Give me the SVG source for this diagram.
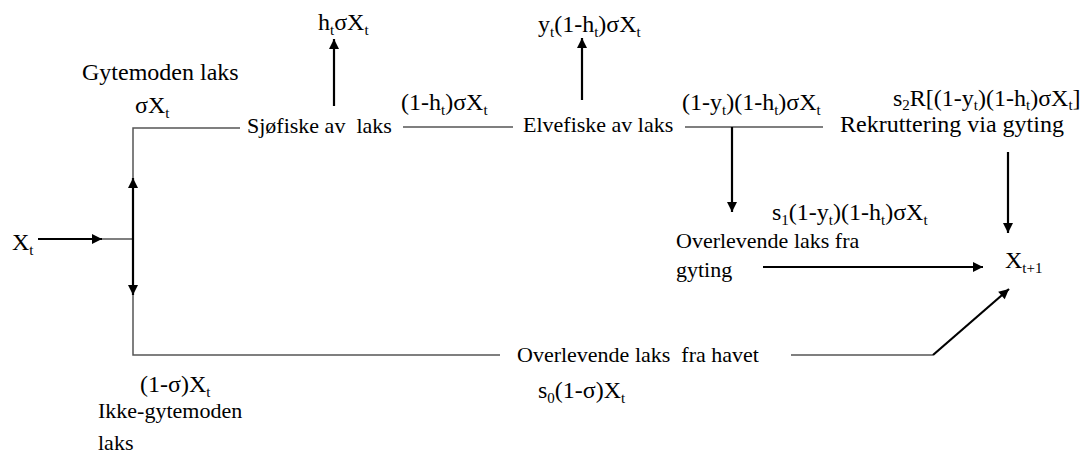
<svg xmlns="http://www.w3.org/2000/svg" width="1088" height="457" viewBox="0 0 1088 457">
<style>
text{font-family:"Liberation Serif","Times New Roman",serif;font-size:24px;fill:#000}
.p{font-size:22px}
.sub{font-size:15px}
.thin{stroke:#555;stroke-width:1.5;fill:none}
.arr{stroke:#000;stroke-width:2.2;fill:none}
</style>
<defs>
<marker id="ah" viewBox="0 0 10 10" refX="10" refY="5" markerWidth="11" markerHeight="10" markerUnits="userSpaceOnUse" orient="auto">
<path d="M0,0 L10,5 L0,10 z" fill="#000"/>
</marker>
</defs>
<g id="connectors">
<path class="thin" d="M240,128 H133 V355 H500"/>
<path class="thin" d="M102,239 H133"/>
<path class="arr" d="M133,239 V178" marker-end="url(#ah)"/>
<path class="arr" d="M133,239 V295" marker-end="url(#ah)"/>
<path class="arr" d="M38,239 H102" marker-end="url(#ah)"/>
<path class="arr" d="M334,106 V39" marker-end="url(#ah)"/>
<path class="thin" d="M403,127 H513"/>
<path class="arr" d="M582,100 V38" marker-end="url(#ah)"/>
<path class="thin" d="M685,127 H823"/>
<path class="arr" d="M732,127 V212" marker-end="url(#ah)"/>
<path class="arr" d="M1008,152 V233" marker-end="url(#ah)"/>
<path class="arr" d="M763,267 H983" marker-end="url(#ah)"/>
<path class="thin" d="M791,355 H933"/>
<path class="arr" d="M933,355 L1009,289" marker-end="url(#ah)"/>
</g>
<g id="n-xt"><text x="12" y="250">X<tspan class="sub" dy="5">t</tspan></text></g>
<g id="n-gytemoden"><text x="82" y="80">Gytemoden laks</text><text x="135" y="113">σX<tspan class="sub" dy="5">t</tspan></text></g>
<g id="n-sjofiske"><text class="p" x="247" y="133" xml:space="preserve">Sjøfiske av  laks</text></g>
<g id="n-hsx"><text x="318" y="30">h<tspan class="sub" dy="5">t</tspan><tspan dy="-5">σX</tspan><tspan class="sub" dy="5">t</tspan></text></g>
<g id="n-1hsx"><text x="401" y="110">(1-h<tspan class="sub" dy="5">t</tspan><tspan dy="-5">)σX</tspan><tspan class="sub" dy="5">t</tspan></text></g>
<g id="n-elvefiske"><text class="p" x="523" y="132">Elvefiske av laks</text></g>
<g id="n-yhsx"><text x="538" y="32">y<tspan class="sub" dy="5">t</tspan><tspan dy="-5">(1-h</tspan><tspan class="sub" dy="5">t</tspan><tspan dy="-5">)σX</tspan><tspan class="sub" dy="5">t</tspan></text></g>
<g id="n-1y1hsx"><text x="682" y="110">(1-y<tspan class="sub" dy="5">t</tspan><tspan dy="-5">)(1-h</tspan><tspan class="sub" dy="5">t</tspan><tspan dy="-5">)σX</tspan><tspan class="sub" dy="5">t</tspan></text></g>
<g id="n-rekruttering"><text x="893" y="106">s<tspan class="sub" dy="4">2</tspan><tspan dy="-4">R[(1-y</tspan><tspan class="sub" dy="4">t</tspan><tspan dy="-4">)(1-h</tspan><tspan class="sub" dy="4">t</tspan><tspan dy="-4">)σX</tspan><tspan class="sub" dy="4">t</tspan><tspan dy="-4">]</tspan></text><text x="840" y="132">Rekruttering via gyting</text></g>
<g id="n-overlevende-gyting"><text x="772" y="220">s<tspan class="sub" dy="5">1</tspan><tspan dy="-5">(1-y</tspan><tspan class="sub" dy="5">t</tspan><tspan dy="-5">)(1-h</tspan><tspan class="sub" dy="5">t</tspan><tspan dy="-5">)σX</tspan><tspan class="sub" dy="5">t</tspan></text><text class="p" x="676" y="248">Overlevende laks fra</text><text class="p" x="676" y="277">gyting</text></g>
<g id="n-xt1"><text x="1005" y="268">X<tspan class="sub" dy="5">t+1</tspan></text></g>
<g id="n-havet"><text class="p" x="517" y="362" xml:space="preserve">Overlevende laks  fra havet</text><text x="538" y="398">s<tspan class="sub" dy="5">0</tspan><tspan dy="-5">(1-σ)X</tspan><tspan class="sub" dy="5">t</tspan></text></g>
<g id="n-ikke"><text x="140" y="392">(1-σ)X<tspan class="sub" dy="5">t</tspan></text><text class="p" x="98" y="418">Ikke-gytemoden</text><text class="p" x="98" y="450">laks</text></g>
</svg>
